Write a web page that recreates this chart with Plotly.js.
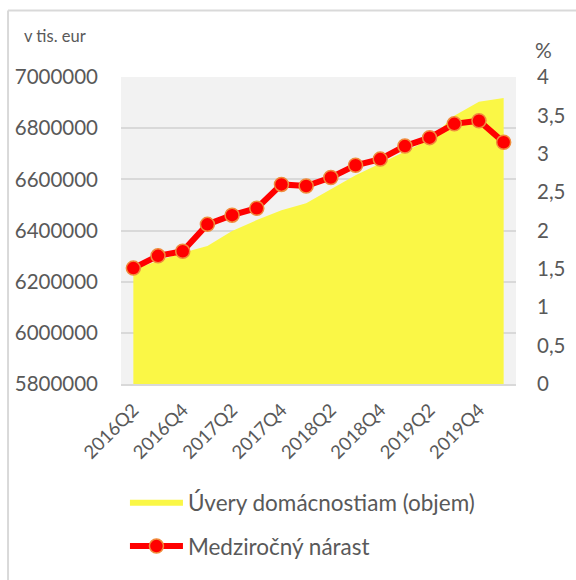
<!DOCTYPE html>
<html>
<head>
<meta charset="utf-8">
<script src="https://cdn.plot.ly/plotly-3.0.1.min.js"></script>
<style>html,body{margin:0;padding:0;background:#fff}</style>
</head>
<body>
<div id="chart" style="width:576px;height:580px"></div>
<script>
const quarters = ["2016Q2","2016Q3","2016Q4","2017Q1","2017Q2","2017Q3","2017Q4","2018Q1","2018Q2","2018Q3","2018Q4","2019Q1","2019Q2","2019Q3","2019Q4","2020Q1"];
const tickLabels = ["2016Q2","2016Q4","2017Q2","2017Q4","2018Q2","2018Q4","2019Q2","2019Q4"];
const loansVolume = [6246600,6281500,6312600,6339800,6398000,6440800,6479600,6506800,6561200,6615500,6662100,6708700,6755300,6848500,6902900,6918400];
const yoyGrowth = [1.51,1.67,1.73,2.08,2.20,2.29,2.60,2.58,2.69,2.85,2.93,3.10,3.21,3.39,3.43,3.15];
const leftTicks = [5800000,6000000,6200000,6400000,6600000,6800000,7000000];
const rightTicks = [0,0.5,1,1.5,2,2.5,3,3.5,4];

const FONT = "Lato, 'Open Sans', sans-serif";
const GREY = "#595959";

const traces = [
  {
    type: "scatter", mode: "lines", x: quarters, y: loansVolume,
    name: "Úvery domácnostiam (objem)",
    fill: "tozeroy", fillcolor: "#FAF746", line: {width: 0, color: "#FAF746"},
    legendgroup: "a", yaxis: "y"
  },
  {
    type: "scatter", mode: "lines+markers", x: quarters, y: yoyGrowth,
    name: "Medziročný nárast",
    line: {color: "#FF0000", width: 6},
    marker: {color: "#FF0000", size: 14, line: {color: "#F08C3C", width: 1.5}},
    legendgroup: "b", yaxis: "y2"
  }
];

const layout = {
  width: 576, height: 580,
  margin: {l: 121, r: 60, t: 77, b: 194},
  paper_bgcolor: "#ffffff",
  plot_bgcolor: "#F2F2F2",
  font: {family: FONT, color: GREY},
  showlegend: true,
  xaxis: {
    type: "category",
    range: [-0.5, 15.5],
    tickmode: "array", tickvals: tickLabels, ticktext: tickLabels,
    tickangle: -45,
    tickfont: {size: 18.5, color: GREY, family: FONT},
    showgrid: false, zeroline: false,
    showline: true, linecolor: "#D9D9D9", linewidth: 2,
    ticks: "", ticklabelstandoff: 6, fixedrange: true
  },
  yaxis: {
    range: [5800000, 7000000],
    tickmode: "array", tickvals: leftTicks, ticktext: leftTicks.map(String),
    tickfont: {size: 20.5, color: GREY, family: FONT},
    showgrid: true, gridcolor: "#D9D9D9", gridwidth: 2,
    zeroline: false, showline: false, ticks: "", ticklabelstandoff: 22
  },
  yaxis2: {
    overlaying: "y", side: "right",
    range: [0, 4],
    tickmode: "array", tickvals: rightTicks,
    ticktext: rightTicks.map(v => String(v).replace(".", ",")),
    tickfont: {size: 20.5, color: GREY, family: FONT},
    showgrid: false, zeroline: false, showline: false, ticks: "",
    ticklabelstandoff: 20
  },
  legend: {
    x: 0.01, y: -0.315, xanchor: "left", yanchor: "top",
    orientation: "v",
    font: {size: 22.5, color: GREY, family: FONT},
    itemwidth: 53,
    traceorder: "grouped",
    tracegroupgap: 12,
    bgcolor: "rgba(0,0,0,0)"
  },
  annotations: [
    {text: "v tis. eur", xref: "paper", yref: "paper", x: -0.25, y: 1.135, xanchor: "left", yanchor: "middle", showarrow: false, font: {size: 16.5, color: GREY, family: FONT}},
    {text: "%", xref: "paper", yref: "paper", x: 1.042, y: 1.09, xanchor: "left", yanchor: "middle", showarrow: false, font: {size: 21, color: GREY, family: FONT}}
  ],
  shapes: [
    {type: "line", xref: "paper", yref: "paper", x0: -0.286, x1: -0.286, y0: 1.217, y1: -0.64, line: {color: "#D9D9D9", width: 2}},
    {type: "line", xref: "paper", yref: "paper", x0: -0.286, x1: 1.16, y0: 1.217, y1: 1.217, line: {color: "#D9D9D9", width: 2}}
  ]
};

Plotly.newPlot("chart", traces, layout, {displayModeBar: false, staticPlot: true});
</script>
</body>
</html>
